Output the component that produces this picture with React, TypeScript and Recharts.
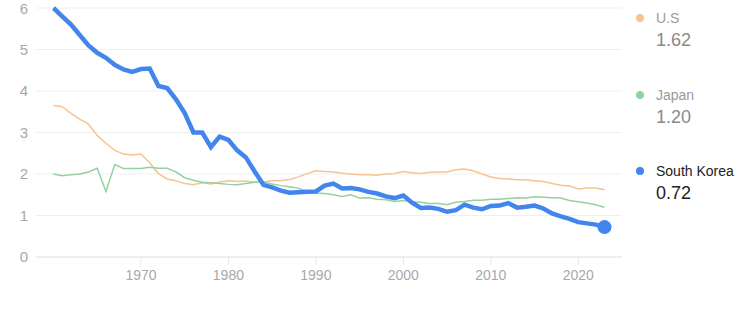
import React from "react";
import { LineChart, Line, XAxis, YAxis, CartesianGrid } from "recharts";

const years: number[] = Array.from({ length: 64 }, (_, i) => 1960 + i);

const usValues: number[] = [
  3.65, 3.62, 3.46, 3.32, 3.2, 2.93, 2.74, 2.57, 2.48, 2.46,
  2.48, 2.27, 2.01, 1.88, 1.84, 1.77, 1.74, 1.79, 1.76, 1.81,
  1.84, 1.82, 1.83, 1.8, 1.81, 1.84, 1.84, 1.87, 1.93, 2.01,
  2.08, 2.06, 2.05, 2.02, 2.0, 1.98, 1.98, 1.97, 2.0, 2.01,
  2.06, 2.03, 2.01, 2.04, 2.05, 2.05, 2.1, 2.12, 2.08, 2.0,
  1.93, 1.89, 1.88, 1.86, 1.86, 1.84, 1.82, 1.77, 1.73, 1.71,
  1.64, 1.66, 1.66, 1.62,
];

const japanValues: number[] = [
  2.0, 1.96, 1.98, 2.0, 2.05, 2.14, 1.58, 2.23, 2.13, 2.13,
  2.13, 2.16, 2.14, 2.14, 2.05, 1.91, 1.85, 1.8, 1.79, 1.77,
  1.75, 1.74, 1.77, 1.8, 1.81, 1.76, 1.72, 1.69, 1.66, 1.57,
  1.54, 1.53, 1.5, 1.46, 1.5, 1.42, 1.43, 1.39, 1.38, 1.34,
  1.36, 1.33, 1.32, 1.29, 1.29, 1.26, 1.32, 1.34, 1.37, 1.37,
  1.39, 1.39, 1.41, 1.43, 1.42, 1.45, 1.44, 1.43, 1.42, 1.36,
  1.33, 1.3, 1.26, 1.2,
];

const koreaValues: number[] = [
  6.0, 5.8, 5.6, 5.35, 5.1, 4.92, 4.8, 4.63, 4.52, 4.46,
  4.53, 4.54, 4.12, 4.07, 3.8, 3.47, 3.0, 3.0, 2.65, 2.9,
  2.82, 2.57, 2.4, 2.06, 1.74, 1.68, 1.6, 1.55, 1.56, 1.57,
  1.58, 1.72, 1.77, 1.65, 1.66, 1.63, 1.57, 1.53, 1.46, 1.42,
  1.48, 1.31, 1.18, 1.19, 1.16, 1.09, 1.13, 1.26, 1.19, 1.15,
  1.23, 1.24, 1.3, 1.19, 1.21, 1.24, 1.17, 1.05, 0.98, 0.92,
  0.84, 0.81, 0.78, 0.72,
];

const xTicks: number[] = [1970, 1980, 1990, 2000, 2010, 2020];
const yTicks: number[] = [0, 1, 2, 3, 4, 5, 6];

const data = years.map((y, i) => ({
  year: y,
  us: usValues[i],
  japan: japanValues[i],
  korea: koreaValues[i],
}));

const COLORS = { us: "#f5c48f", japan: "#93d1a0", korea: "#4285ec" };
const FONT = "Arial, 'Liberation Sans', Helvetica, sans-serif";

const legendItems = [
  { name: "U.S", value: usValues[usValues.length - 1], color: COLORS.us, top: 18, dark: false },
  { name: "Japan", value: japanValues[japanValues.length - 1], color: COLORS.japan, top: 95, dark: false },
  { name: "South Korea", value: koreaValues[koreaValues.length - 1], color: COLORS.korea, top: 171, dark: true },
];

const LastDot = (props: any) => {
  const { cx, cy, index } = props;
  if (index !== data.length - 1) return <g key={`d${index}`} />;
  return <circle key={`d${index}`} cx={cx} cy={cy} r={7} fill={COLORS.korea} />;
};

export default function App() {
  return (
    <div style={{ position: "absolute", left: 0, top: 0, width: 737, height: 312, fontFamily: FONT }}>
      <LineChart
        width={737}
        height={312}
        data={data}
        margin={{ top: 8, right: 115, bottom: 25, left: 0 }}
      >
        <CartesianGrid vertical={false} stroke="#efefef" />
        <XAxis
          dataKey="year"
          type="number"
          domain={[1958, 2025]}
          ticks={xTicks}
          height={30}
          axisLine={{ stroke: "#e6e6e6" }}
          tickLine={{ stroke: "#e6e6e6" }}
          tickSize={8}
          tickMargin={5}
          tick={{ fill: "#a8a8a8", fontSize: 14, fontFamily: FONT }}
        />
        <YAxis
          type="number"
          domain={[0, 6]}
          ticks={yTicks}
          width={36}
          axisLine={false}
          tickLine={false}
          tickMargin={2}
          tick={{ fill: "#a8a8a8", fontSize: 15, fontFamily: FONT }}
        />
        <Line dataKey="us" type="linear" stroke={COLORS.us} strokeWidth={1.5} dot={false} isAnimationActive={false} />
        <Line dataKey="japan" type="linear" stroke={COLORS.japan} strokeWidth={1.5} dot={false} isAnimationActive={false} />
        <Line dataKey="korea" type="linear" stroke={COLORS.korea} strokeWidth={4.5} dot={LastDot} activeDot={false} isAnimationActive={false} />
      </LineChart>
      {legendItems.map((it) => (
        <div key={it.name} style={{ position: "absolute", left: 636, top: it.top - 10, width: 101 }}>
          <div style={{ display: "flex", alignItems: "center", height: 20 }}>
            <span style={{ width: 8, height: 8, borderRadius: 4, background: it.color, display: "inline-block", marginRight: 12 }} />
            <span style={{ fontSize: 14, color: it.dark ? "#222" : "#9a9a9a", whiteSpace: "nowrap" }}>{it.name}</span>
          </div>
          <div style={{ marginLeft: 20, fontSize: 18, lineHeight: "24px", color: it.dark ? "#222" : "#8a8a8a" }}>
            {it.value.toFixed(2)}
          </div>
        </div>
      ))}
    </div>
  );
}
